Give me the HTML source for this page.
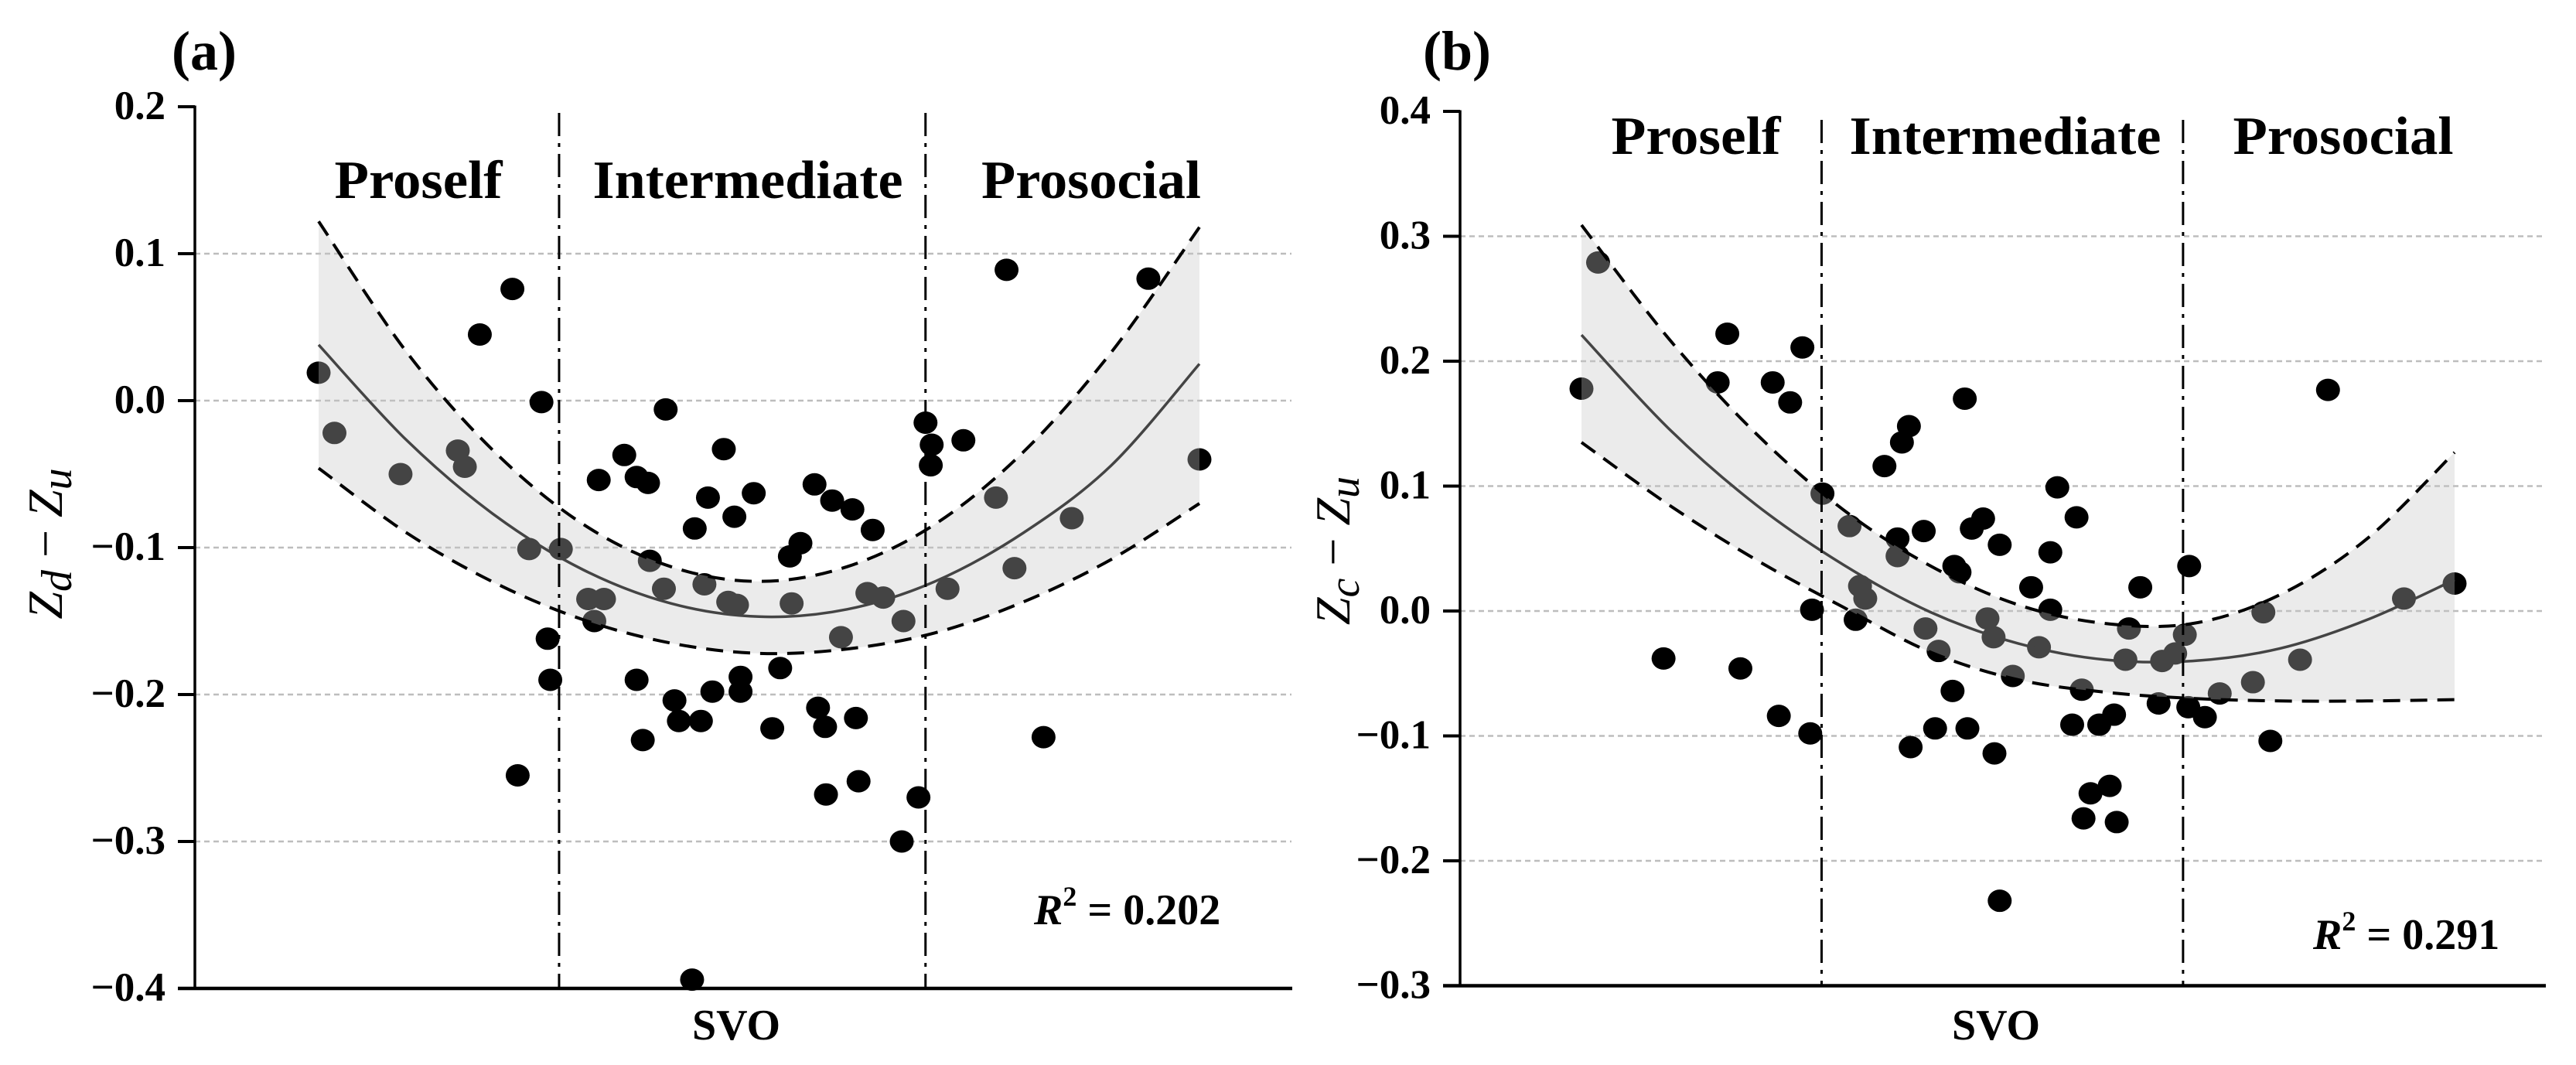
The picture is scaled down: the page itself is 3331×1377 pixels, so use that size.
<!DOCTYPE html>
<html>
<head>
<meta charset="utf-8">
<style>
html,body{margin:0;padding:0;background:#fff;}
svg{display:block;}
text{font-family:"Liberation Serif",serif;}
</style>
</head>
<body>
<svg id="fig" width="3331" height="1377" viewBox="0 0 3331 1377" xmlns="http://www.w3.org/2000/svg">
  <g id="panelA"></g>
  <g id="panelB"></g>
</svg>
<script>
// ---------- Panel (a) data ----------
const aPointsX = [0,1.8,9.3,15.8,16.6,18.3,22.0,22.6,23.9,25.3,26.0,26.3,27.5,30.6,32.4,31.3,31.8,34.7,36.1,37.4,36.1,36.8,37.6,39.2,39.4,40.4,40.9,42.7,43.4,43.8,44.2,44.7,46.0,46.5,47.2,47.5,47.9,47.9,49.4,51.5,52.4,53.5,53.7,54.7,56.3,56.7,57.5,57.6,58.3,59.3,60.6,61.0,61.3,62.3,62.9,64.1,66.2,66.4,68.1,68.9,69.6,69.5,71.4,73.2,76.9,78.1,79.0,82.3,85.5,94.2,100,42.4];
const aPointsY = [0.019,-0.022,-0.050,-0.034,-0.045,0.045,0.076,-0.255,-0.101,-0.001,-0.162,-0.190,-0.101,-0.135,-0.135,-0.150,-0.054,-0.037,-0.052,-0.056,-0.190,-0.231,-0.109,-0.128,-0.006,-0.204,-0.218,-0.087,-0.218,-0.125,-0.066,-0.198,-0.033,-0.137,-0.079,-0.139,-0.188,-0.198,-0.063,-0.223,-0.182,-0.106,-0.138,-0.097,-0.057,-0.209,-0.222,-0.268,-0.068,-0.161,-0.074,-0.216,-0.259,-0.131,-0.088,-0.134,-0.300,-0.150,-0.270,-0.015,-0.030,-0.044,-0.128,-0.027,-0.066,0.089,-0.114,-0.229,-0.080,0.083,-0.040,-0.394];
const aCurveX = [0,10,20,30,40,50,60,70,80,90,100];
const aFit   = [0.038,-0.027,-0.078,-0.115,-0.138,-0.147,-0.142,-0.123,-0.090,-0.044,0.025];
const aUpper = [0.122,0.033,-0.035,-0.084,-0.113,-0.123,-0.113,-0.084,-0.035,0.033,0.118];
const aLower = [-0.046,-0.090,-0.124,-0.149,-0.165,-0.172,-0.169,-0.158,-0.137,-0.108,-0.070];
const aTicks = [0.2,0.1,0.0,-0.1,-0.2,-0.3,-0.4];
const aTickLabels = ["0.2","0.1","0.0","\u22120.1","\u22120.2","\u22120.3","\u22120.4"];
const aDividers = [27.3,68.9];
const aRegions = ["Proself","Intermediate","Prosocial"];

// ---------- Panel (b) data ----------
const bPointsX = [0,1.9,9.4,15.6,16.7,18.2,21.9,22.6,23.9,25.3,26.2,26.4,27.6,30.7,31.4,31.9,32.5,34.7,36.2,36.2,36.7,37.5,37.7,39.2,39.4,40.5,40.9,42.5,42.7,43.3,43.9,44.2,44.7,46.0,46.5,47.2,47.3,47.9,49.4,51.5,52.4,53.7,53.7,54.5,56.2,56.7,57.3,57.5,58.3,59.3,60.5,61.0,61.3,62.7,62.3,64.0,66.1,66.5,68.0,69.1,69.6,69.5,71.4,73.1,76.9,78.1,78.9,82.3,85.5,94.2,100,47.9];
const bPointsY = [0.178,0.279,-0.038,0.183,0.222,-0.046,0.183,-0.084,0.167,0.211,-0.098,0.001,0.094,0.068,-0.007,0.020,0.010,0.116,0.058,0.044,0.135,0.148,-0.109,0.064,-0.014,-0.094,-0.032,-0.064,0.036,0.031,0.170,-0.094,0.066,0.074,-0.006,-0.021,-0.114,0.053,-0.052,0.019,-0.029,0.001,0.047,0.099,-0.091,0.075,-0.063,-0.166,-0.146,-0.091,-0.140,-0.083,-0.169,-0.014,-0.039,0.019,-0.074,-0.040,-0.034,-0.019,0.036,-0.077,-0.085,-0.066,-0.057,-0.001,-0.104,-0.039,0.177,0.010,0.022,-0.232];
const bCurveX = [0,10,20,30,40,50,60,70,80,90,100];
const bFit   = [0.221,0.146,0.085,0.037,-0.001,-0.026,-0.039,-0.040,-0.030,-0.007,0.025];
const bUpper = [0.309,0.218,0.142,0.081,0.036,0.005,-0.010,-0.010,0.013,0.058,0.127];
const bLower = [0.135,0.085,0.041,0.003,-0.033,-0.055,-0.065,-0.070,-0.072,-0.072,-0.071];
const bTicks = [0.4,0.3,0.2,0.1,0.0,-0.1,-0.2,-0.3];
const bTickLabels = ["0.4","0.3","0.2","0.1","0.0","\u22120.1","\u22120.2","\u22120.3"];
const bDividers = [27.5,68.9];
const bRegions = ["Proself","Intermediate","Prosocial"];

const NS = "http://www.w3.org/2000/svg";
function mk(tag, attrs, parent){
  const e = document.createElementNS(NS, tag);
  for (const k in attrs) e.setAttribute(k, attrs[k]);
  parent.appendChild(e);
  return e;
}
function smooth(pts){
  let d = "M" + pts[0][0] + "," + pts[0][1];
  for (let i = 0; i < pts.length - 1; i++){
    const p0 = pts[Math.max(0,i-1)], p1 = pts[i], p2 = pts[i+1], p3 = pts[Math.min(pts.length-1,i+2)];
    const c1x = p1[0] + (p2[0]-p0[0])/6, c1y = p1[1] + (p2[1]-p0[1])/6;
    const c2x = p2[0] - (p3[0]-p1[0])/6, c2y = p2[1] - (p3[1]-p1[1])/6;
    d += " C" + c1x + "," + c1y + " " + c2x + "," + c2y + " " + p2[0] + "," + p2[1];
  }
  return d;
}

function drawPanel(g, cfg){
  const sx = v => cfg.x0 + v * cfg.xs;
  const sy = v => cfg.yTop + (cfg.yMax - v) * cfg.ys;
  const yBot = sy(cfg.ticks[cfg.ticks.length-1]);

  cfg.ticks.forEach((t, i) => {
    if (i === 0 || i === cfg.ticks.length-1) return;
    const gl = mk("line", {x1: cfg.axisX, x2: cfg.gridEnd, y1: sy(t), y2: sy(t), stroke: "#bdbdbd", "stroke-width": 2.5, "stroke-dasharray": "7 5"}, g);
    
    
  });

  cfg.px.forEach((xv, i) => {
    const c = mk("ellipse", {cx: sx(xv), cy: sy(cfg.py[i]), rx: 15.5, ry: 14.5, fill: "#000"}, g);
    
    
  });

  const up = cfg.cx.map((x, i) => [sx(x), sy(cfg.upper[i])]);
  const lo = cfg.cx.map((x, i) => [sx(x), sy(cfg.lower[i])]);
  const loRev = lo.slice().reverse();
  let bandD = smooth(up) + " L" + loRev[0][0] + "," + loRev[0][1] + smooth(loRev).replace(/^M[^C]*/, " ") + " Z";
  const band = mk("path", {d: bandD, fill: "rgb(197,197,197)", "fill-opacity": 0.345, stroke: "none"}, g);
  
  

  const upL = mk("path", {d: smooth(up), fill: "none", stroke: "#000", "stroke-width": 4, "stroke-dasharray": "22 13"}, g);
  
  
  const loL = mk("path", {d: smooth(lo), fill: "none", stroke: "#000", "stroke-width": 4, "stroke-dasharray": "22 13"}, g);
  
  

  const fit = cfg.cx.map((x, i) => [sx(x), sy(cfg.fit[i])]);
  const fitL = mk("path", {d: smooth(fit), fill: "none", stroke: "#444", "stroke-width": 3.5}, g);
  
  

  cfg.dividers.forEach(dv => {
    const l = mk("line", {x1: sx(dv), x2: sx(dv), y1: cfg.divTop, y2: yBot, stroke: "#000", "stroke-width": 3, "stroke-dasharray": "30 9 5 9"}, g);
    
    
  });

  const ya = mk("line", {x1: cfg.axisX, x2: cfg.axisX, y1: sy(cfg.ticks[0]) - 1.5, y2: yBot, stroke: "#000", "stroke-width": 3.5}, g);
  
  
  const xa = mk("line", {x1: cfg.axisX - 22, x2: cfg.xAxisEnd, y1: yBot, y2: yBot, stroke: "#000", "stroke-width": 4.5}, g);
  
  

  cfg.ticks.forEach((t, i) => {
    const tk = mk("line", {x1: cfg.axisX - 22, x2: cfg.axisX, y1: sy(t), y2: sy(t), stroke: "#000", "stroke-width": 4}, g);
    
    
    const tl = mk("text", {x: cfg.axisX - 38, y: sy(t) + 16, "text-anchor": "end", "font-size": 53, "font-weight": "bold", fill: "#000"}, g);
    tl.textContent = cfg.tickLabels[i];
    
    
  });

  cfg.regions.forEach((r, i) => {
    const t = mk("text", {x: cfg.regionX[i], y: cfg.regionY, "text-anchor": "middle", "font-size": 70, "font-weight": "bold", fill: "#000", textLength: cfg.regionW[i], lengthAdjust: "spacingAndGlyphs"}, g);
    t.textContent = r;
    
    
  });

  const pl = mk("text", {x: cfg.labelX, y: 90, "font-size": 72, "font-weight": "bold", fill: "#000"}, g);
  pl.textContent = cfg.label;
  
  

  const xt = mk("text", {x: cfg.svoX, y: 1344, "text-anchor": "middle", "font-size": 56, "font-weight": "bold", fill: "#000"}, g);
  xt.textContent = "SVO";
  
  

  const yt = mk("text", {x: 0, y: 0, transform: "translate(" + cfg.yTitleX + "," + cfg.yTitleY + ") rotate(-90)", "text-anchor": "middle", "font-size": 64, "font-style": "italic", fill: "#000"}, g);
  
  
  const t1 = mk("tspan", {}, yt); t1.textContent = "Z";
  const t2 = mk("tspan", {dy: 12, "font-size": 56}, yt); t2.textContent = cfg.sub;
  const t3 = mk("tspan", {dy: -12, "font-style": "normal"}, yt); t3.textContent = " \u2212 ";
  const t4 = mk("tspan", {}, yt); t4.textContent = "Z";
  const t5 = mk("tspan", {dy: 12, "font-size": 56}, yt); t5.textContent = "u";

  const r2 = mk("text", {x: cfg.r2X, y: cfg.r2Y, "font-size": 56, "font-weight": "bold", fill: "#000"}, g);
  
  
  const r2a = mk("tspan", {"font-style": "italic"}, r2); r2a.textContent = "R";
  const r2b = mk("tspan", {dy: -24, "font-size": 36}, r2); r2b.textContent = "2";
  const r2c = mk("tspan", {dy: 24}, r2); r2c.textContent = " = " + cfg.r2;
}

drawPanel(document.getElementById("panelA"), {
  x0: 412, xs: 11.39, yTop: 138, yMax: 0.2, ys: 1900,
  axisX: 252, gridEnd: 1670, xAxisEnd: 1671, divTop: 146,
  px: aPointsX, py: aPointsY, cx: aCurveX, fit: aFit, upper: aUpper, lower: aLower,
  ticks: aTicks, tickLabels: aTickLabels, dividers: aDividers, regions: aRegions,
  regionX: [541, 967, 1411], regionW: [217, 401, 284], regionY: 256,
  label: "(a)", labelX: 222, svoX: 952, yTitleX: 80, yTitleY: 703, sub: "d",
  r2X: 1337, r2Y: 1195, r2: "0.202"
});
drawPanel(document.getElementById("panelB"), {
  x0: 2045, xs: 11.29, yTop: 144, yMax: 0.4, ys: 1615,
  axisX: 1888, gridEnd: 3291, xAxisEnd: 3292, divTop: 155,
  px: bPointsX, py: bPointsY, cx: bCurveX, fit: bFit, upper: bUpper, lower: bLower,
  ticks: bTicks, tickLabels: bTickLabels, dividers: bDividers, regions: bRegions,
  regionX: [2193, 2593, 3030], regionW: [219, 403, 285], regionY: 199,
  label: "(b)", labelX: 1840, svoX: 2581, yTitleX: 1745, yTitleY: 712, sub: "c",
  r2X: 2991, r2Y: 1227, r2: "0.291"
});
</script>
</body>
</html>
